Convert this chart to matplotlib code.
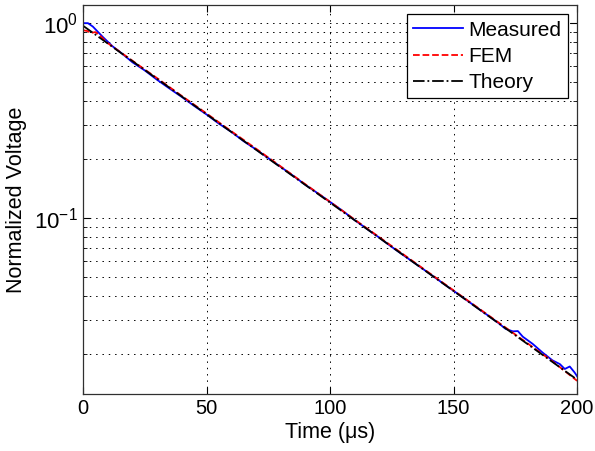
import matplotlib
matplotlib.use('Agg')
import matplotlib.pyplot as plt
from matplotlib.ticker import NullFormatter, LogLocator

plt.rcParams['font.family'] = ['Liberation Sans', 'DejaVu Sans']
plt.rcParams['mathtext.fontset'] = 'custom'
plt.rcParams['mathtext.rm'] = 'Liberation Sans'
plt.rcParams['mathtext.it'] = 'Liberation Sans:italic'

# measured decay
t_meas = [0, 2, 4, 8, 12, 16, 20, 25, 30, 35, 40, 45, 50, 55, 60, 65, 70, 75,
          80, 85, 90, 95, 100, 105, 110, 115, 120, 125, 130, 135, 140, 145,
          150, 155, 160, 165, 168, 171, 174, 176, 178, 182, 186, 190, 193,
          195, 197, 199, 200]
v_meas = [1.00, 1.00, 0.96, 0.85, 0.76, 0.695, 0.63, 0.572, 0.512, 0.462,
          0.418, 0.376, 0.340, 0.305, 0.277, 0.248, 0.225, 0.203, 0.183,
          0.165, 0.148, 0.134, 0.121, 0.109, 0.0975, 0.0878, 0.0792, 0.0710,
          0.0640, 0.0578, 0.0521, 0.0469, 0.0423, 0.0381, 0.0343, 0.0309,
          0.0290, 0.0270, 0.0262, 0.0263, 0.0246, 0.0226, 0.0204, 0.0186,
          0.0178, 0.0168, 0.0173, 0.0161, 0.0154]

# FEM result
t_fem = [0, 2, 3, 5, 7, 10, 15, 20, 25, 30, 40, 50, 60, 70, 80, 90, 100,
         110, 120, 130, 140, 150, 160, 170, 180, 190, 200]
v_fem = [0.92, 0.91, 0.89, 0.90, 0.86, 0.79, 0.712, 0.642, 0.578, 0.522,
         0.423, 0.344, 0.279, 0.227, 0.184, 0.149, 0.121, 0.0981, 0.0796,
         0.0646, 0.0524, 0.0425, 0.0345, 0.0280, 0.0227, 0.0184, 0.0146]

# theory
t_th = [0, 25, 50, 75, 100, 125, 150, 175, 200]
v_th = [0.97, 0.575, 0.341, 0.202, 0.120, 0.0711, 0.0422, 0.0250, 0.0148]

fig = plt.figure(figsize=(5.95, 4.51), dpi=100)
ax = fig.add_axes([0.1395, 0.1264, 0.8305, 0.8626])

ax.plot(t_meas, v_meas, '-', color='#0000ff', lw=1.3, label='Measured')
ax.plot(t_fem, v_fem, '--', color='#ff0000', lw=1.3, label='FEM')
ax.plot(t_th, v_th, '-.', color='k', lw=1.3, label='Theory')

ax.set_yscale('log')
ax.set_xlim(0, 200)
ax.set_ylim(0.0125, 1.24)
ax.set_xticks([0, 50, 100, 150, 200])
ax.yaxis.set_minor_locator(LogLocator(base=10, subs=range(2, 10)))
ax.yaxis.set_minor_formatter(NullFormatter())

grid_ls = (0, (1.5, 5))
ax.grid(True, which='major', axis='both', linestyle=grid_ls, color='k', lw=0.7)
ax.grid(True, which='minor', axis='y', linestyle=grid_ls, color='k', lw=0.7)

ax.tick_params(which='both', direction='in', top=True, right=True,
               labelsize=14.5, colors='k')
ax.tick_params(axis='y', labelsize=16)
ax.tick_params(which='major', length=5)
ax.tick_params(which='minor', length=3)
for s in ax.spines.values():
    s.set_color('#303030')
    s.set_linewidth(0.9)

ax.set_xlabel('Time (μs)', fontsize=15.5, labelpad=3)
ax.set_ylabel('Normalized Voltage', fontsize=15.5, labelpad=5)

leg = ax.legend(loc='upper right', fontsize=15, fancybox=False,
                edgecolor='k', framealpha=1, borderpad=0.3,
                labelspacing=0.35, handlelength=2.4, handletextpad=0.25,
                borderaxespad=0.45)
leg.get_frame().set_linewidth(0.9)

fig.savefig('out.png', dpi=100)
